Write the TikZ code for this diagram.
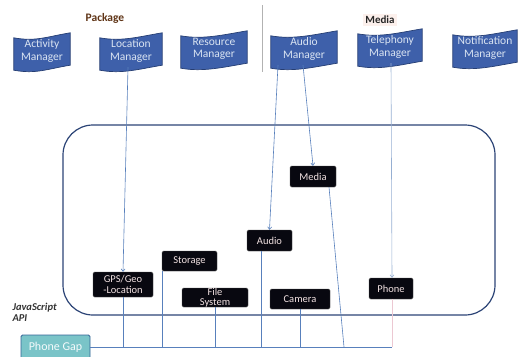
\documentclass[tikz,border=0pt]{standalone}
\usepackage{fontspec}
\setmainfont{Carlito}
\usepackage{tikz}
\usetikzlibrary{arrows.meta,backgrounds}
\definecolor{mgrfill}{RGB}{62,96,170}
\definecolor{mgrline}{RGB}{38,62,115}
\definecolor{mgrtext}{RGB}{218,228,242}
\definecolor{wirecol}{RGB}{88,128,188}
\definecolor{telwire}{RGB}{150,175,210}
\definecolor{framecol}{RGB}{44,68,118}
\definecolor{blkfill}{RGB}{8,8,16}
\definecolor{blktext}{RGB}{242,226,226}
\definecolor{gapfill}{RGB}{122,196,200}
\definecolor{gapline}{RGB}{52,100,150}
\definecolor{pkgcol}{RGB}{95,52,22}
\definecolor{mediabg}{RGB}{252,240,236}
\definecolor{pinkline}{RGB}{236,200,210}

\begin{document}
\begin{tikzpicture}[x=1pt, y=-1pt,
    mgr/.style={text=mgrtext, align=center, minimum width=62pt, minimum height=32pt, inner sep=0pt, font=\fontsize{11.5}{12.5}\selectfont},
    mgrwave/.style={fill=mgrfill, draw=mgrline, line width=0.7pt},
    blk/.style={fill=blkfill, draw=black!70, rounded corners=1.5pt, text=blktext, align=center, inner sep=0pt, font=\fontsize{10.5}{11}\selectfont},
    wire/.style={draw=wirecol, line width=0.6pt},
    tip/.style={-{Straight Barb[length=2.5pt,width=4pt]}}]
    \useasboundingbox (0,0) rectangle (518,356);

    % managers
    \node[mgr, minimum width=56pt] (actmgr) at (42,51) {Activity\\Manager};
    \node[mgr] (locmgr) at (131,51) {Location\\Manager};
    \node[mgr, minimum width=66pt] (resmgr) at (214,49) {Resource\\Manager};
    \node[mgr, minimum width=66pt] (audmgr) at (304,49) {Audio\\Manager};
    \node[mgr, minimum width=64pt] (telmgr) at (390,47) {Telephony\\Manager};
    \node[mgr, minimum width=64pt] (notmgr) at (485,48) {Notification\\Manager};

    \begin{scope}[on background layer]
    \foreach \m in {actmgr,locmgr,resmgr,audmgr,telmgr,notmgr} {
        \filldraw[mgrwave] ([yshift=-3pt]\m.north west) .. controls ([xshift=22pt,yshift=-7pt]\m.north west) and ([xshift=-24pt,yshift=-2pt]\m.north east) .. ([yshift=2pt]\m.north east)
            -- ([yshift=2pt]\m.south east) .. controls ([xshift=-24pt,yshift=-2pt]\m.south east) and ([xshift=22pt,yshift=-7pt]\m.south west) .. ([yshift=-3pt]\m.south west) -- cycle;
    }
    \end{scope}

    \node[text=pkgcol, font=\fontsize{11.5}{12}\selectfont\bfseries] (pkg) at (105,18) {Package};
    \node[fill=mediabg, text=black!85, inner sep=2pt, font=\fontsize{11}{12}\selectfont\bfseries] (media) at (380,20) {Media};
    \draw[gray!60, line width=0.8pt] (262,5) -- (262,72);

    % runtime frame
    \draw[framecol, line width=1.2pt, rounded corners=30pt] (63,125) rectangle (495,315);

    \node[blk, minimum width=60pt, minimum height=25pt] (gps) at (123,284.5) {GPS/Geo\\-Location};
    \node[blk, minimum width=55pt, minimum height=20pt] (storage) at (189.5,261) {Storage};
    \node[blk, minimum width=66pt, minimum height=19pt, font=\fontsize{10.5}{10}\selectfont] (filesys) at (215,297.5) {File\\System};
    \node[blk, minimum width=45pt, minimum height=21pt] (audio) at (269.5,240.5) {Audio};
    \node[blk, minimum width=46pt, minimum height=21pt] (mediabox) at (313,176.5) {Media};
    \node[blk, minimum width=60pt, minimum height=20pt] (camera) at (300,299) {Camera};
    \node[blk, minimum width=44pt, minimum height=21pt] (phone) at (391,288.5) {Phone};

    \node[anchor=west, align=left, text=black!80, font=\fontsize{10.5}{11}\selectfont\bfseries\itshape] (jsapi) at (9,312) {JavaScript\\API};
    \node[fill=gapfill, draw=gapline, line width=0.9pt, rounded corners=1.5pt, text=white!92!gapfill, minimum width=69pt, minimum height=24pt, font=\fontsize{12}{13}\selectfont] (pgap) at (55.5,347) {Phone Gap};

    % calls from the managers
    \draw[wire, tip] ([xshift=-3pt]locmgr.south) -- (gps.north);
    \draw[wire, tip] ([xshift=-26pt]audmgr.south) -- (audio.north);
    \draw[wire, tip] ([xshift=-1pt]audmgr.south) -- (mediabox.north);
    \draw[wire, draw=telwire, tip] ([xshift=1pt]telmgr.south) -- ([xshift=1pt]phone.north);

    % bus to Phone Gap
    \coordinate (busend) at (392,347);
    \coordinate (mediaend) at (344,347);
    \draw[wire] (pgap.east) -- (busend);
    \draw[wire] (gps.south) -- (gps.south |- pgap.east);
    \draw[wire] (storage.south west) -- (storage.south west |- pgap.east);
    \draw[wire] (filesys.south) -- (filesys.south |- pgap.east);
    \draw[wire] ([xshift=-8.5pt]audio.south) -- ([xshift=-8.5pt]audio.south |- pgap.east);
    \draw[wire] (camera.south) -- (camera.south |- pgap.east);
    \draw[wire] ([xshift=16pt]mediabox.south) -- (mediaend);
    \draw[pinkline, line width=0.6pt] ([xshift=1pt]phone.south) -- (busend);

\end{tikzpicture}
\end{document}
